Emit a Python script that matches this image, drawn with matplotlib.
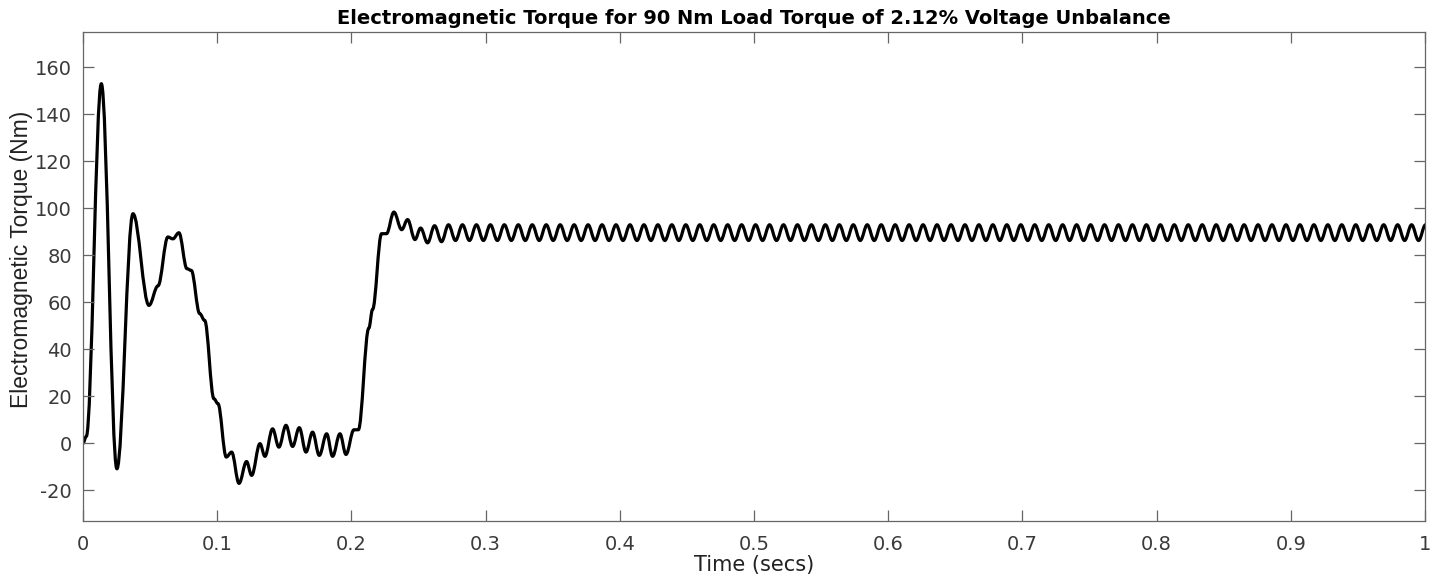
import numpy as np
import matplotlib.pyplot as plt
from matplotlib.path import Path
from matplotlib.patches import PathPatch

plt.rcParams['axes.unicode_minus'] = False

# start-up transient: local peaks, troughs and shoulders
transient_t = [0.0, 0.0025, 0.0137, 0.0253, 0.0373, 0.0492, 0.0559, 0.0633, 0.0670, 0.0715,
               0.0775, 0.0807, 0.0870, 0.0907, 0.0976, 0.1006, 0.1068, 0.1108, 0.1163, 0.1219,
               0.1257, 0.1319, 0.1356, 0.1413, 0.1460, 0.1513, 0.1562, 0.1612, 0.1662, 0.1711,
               0.1761, 0.1816, 0.1860, 0.1915, 0.1960, 0.2019, 0.2052, 0.2130, 0.2158, 0.2225,
               0.2262, 0.2317, 0.2375, 0.2419, 0.2474, 0.2516, 0.2568]
transient_v = [0.0, 3.0, 153.0, -10.8, 97.7, 58.7, 67.0, 87.8, 87.0, 89.6,
               74.3, 73.6, 55.2, 52.3, 19.0, 16.9, -5.8, -3.7, -17.0, -7.7,
               -13.6, -0.1, -5.5, 6.2, -1.6, 7.7, -1.3, 6.7, -3.7, 4.8,
               -5.1, 4.1, -5.5, 4.1, -4.7, 5.8, 5.8, 49.0, 57.0, 89.2,
               89.2, 98.4, 90.9, 95.2, 86.7, 91.6, 85.3]

# steady-state ripple: alternating peak / trough of the torque
ripple_t = [0.2620, 0.2672, 0.2724, 0.2776, 0.2828, 0.2880, 0.2932, 0.2984, 0.3036, 0.3088,
            0.3140, 0.3192, 0.3244, 0.3296, 0.3348, 0.3400, 0.3452, 0.3504, 0.3556, 0.3608,
            0.3660, 0.3712, 0.3764, 0.3816, 0.3868, 0.3920, 0.3972, 0.4024, 0.4076, 0.4128,
            0.4180, 0.4232, 0.4284, 0.4336, 0.4388, 0.4440, 0.4492, 0.4544, 0.4596, 0.4648,
            0.4700, 0.4752, 0.4804, 0.4856, 0.4908, 0.4960, 0.5012, 0.5064, 0.5116, 0.5168,
            0.5220, 0.5272, 0.5324, 0.5376, 0.5428, 0.5480, 0.5532, 0.5584, 0.5636, 0.5688,
            0.5740, 0.5792, 0.5844, 0.5896, 0.5948, 0.6000, 0.6052, 0.6104, 0.6156, 0.6208,
            0.6260, 0.6312, 0.6364, 0.6416, 0.6468, 0.6520, 0.6572, 0.6624, 0.6676, 0.6728,
            0.6780, 0.6832, 0.6884, 0.6936, 0.6988, 0.7040, 0.7092, 0.7144, 0.7196, 0.7248,
            0.7300, 0.7352, 0.7404, 0.7456, 0.7508, 0.7560, 0.7612, 0.7664, 0.7716, 0.7768,
            0.7820, 0.7872, 0.7924, 0.7976, 0.8028, 0.8080, 0.8132, 0.8184, 0.8236, 0.8288,
            0.8340, 0.8392, 0.8444, 0.8496, 0.8548, 0.8600, 0.8652, 0.8704, 0.8756, 0.8808,
            0.8860, 0.8912, 0.8964, 0.9016, 0.9068, 0.9120, 0.9172, 0.9224, 0.9276, 0.9328,
            0.9380, 0.9432, 0.9484, 0.9536, 0.9588, 0.9640, 0.9692, 0.9744, 0.9796, 0.9848,
            0.9900, 0.9952, 1.0004]
ripple_v = [92.6, 85.8, 93.0, 86.3, 93.0, 86.3, 93.0, 86.3, 93.0, 86.3,
            93.0, 86.3, 93.0, 86.3, 93.0, 86.3, 93.0, 86.3, 93.0, 86.3,
            93.0, 86.3, 93.0, 86.3, 93.0, 86.3, 93.0, 86.3, 93.0, 86.3,
            93.0, 86.3, 93.0, 86.3, 93.0, 86.3, 93.0, 86.3, 93.0, 86.3,
            93.0, 86.3, 93.0, 86.3, 93.0, 86.3, 93.0, 86.3, 93.0, 86.3,
            93.0, 86.3, 93.0, 86.3, 93.0, 86.3, 93.0, 86.3, 93.0, 86.3,
            93.0, 86.3, 93.0, 86.3, 93.0, 86.3, 93.0, 86.3, 93.0, 86.3,
            93.0, 86.3, 93.0, 86.3, 93.0, 86.3, 93.0, 86.3, 93.0, 86.3,
            93.0, 86.3, 93.0, 86.3, 93.0, 86.3, 93.0, 86.3, 93.0, 86.3,
            93.0, 86.3, 93.0, 86.3, 93.0, 86.3, 93.0, 86.3, 93.0, 86.3,
            93.0, 86.3, 93.0, 86.3, 93.0, 86.3, 93.0, 86.3, 93.0, 86.3,
            93.0, 86.3, 93.0, 86.3, 93.0, 86.3, 93.0, 86.3, 93.0, 86.3,
            93.0, 86.3, 93.0, 86.3, 93.0, 86.3, 93.0, 86.3, 93.0, 86.3,
            93.0, 86.3, 93.0, 86.3, 93.0, 86.3, 93.0, 86.3, 93.0, 86.3,
            93.0, 86.3, 93.0]

x_ticks = [0, 0.1, 0.2, 0.3, 0.4, 0.5, 0.6, 0.7, 0.8, 0.9, 1.0]
x_tick_labels = ['0', '0.1', '0.2', '0.3', '0.4', '0.5', '0.6', '0.7', '0.8', '0.9', '1']
y_ticks = [-20, 0, 20, 40, 60, 80, 100, 120, 140, 160]


def smooth_path(t, v, k=0.363):
    """cubic bezier through the extremes, flat tangent at each of them"""
    verts = [(t[0], v[0])]
    codes = [Path.MOVETO]
    for i in range(1, len(t)):
        dt = t[i] - t[i - 1]
        verts += [(t[i - 1] + k * dt, v[i - 1]), (t[i] - k * dt, v[i]), (t[i], v[i])]
        codes += [Path.CURVE4] * 3
    return Path(verts, codes)


t = np.array(transient_t + ripple_t)
v = np.array(transient_v + ripple_v)

fig = plt.figure(figsize=(14.4, 5.76), dpi=100)
ax = fig.add_axes([0.0576, 0.0955, 0.932, 0.849])

ax.add_patch(PathPatch(smooth_path(t, v), facecolor='none', edgecolor='black',
                       lw=2.3, capstyle='round', joinstyle='round'))

ax.set_xlim(0, 1)
ax.set_ylim(-33, 175)
ax.set_xticks(x_ticks)
ax.set_xticklabels(x_tick_labels)
ax.set_yticks(y_ticks)

for s in ax.spines.values():
    s.set_color('#666666')
    s.set_linewidth(0.9)
ax.tick_params(direction='in', top=True, right=True, length=8, width=0.9,
               color='#666666', labelcolor='#3a3a3a', labelsize=14, pad=8)
ax.tick_params(axis='x', pad=10)

ax.set_title('Electromagnetic Torque for 90 Nm Load Torque of 2.12% Voltage Unbalance',
             fontsize=14, fontweight='bold', pad=6)
ax.set_xlabel('Time (secs)', fontsize=15, color='#222222', labelpad=1)
ax.set_ylabel('Electromagnetic Torque (Nm)', fontsize=16.5, color='#222222',
              family='Liberation Sans')
ax.yaxis.set_label_coords(-0.037, 0.535)

fig.savefig('out.png', dpi=100)
